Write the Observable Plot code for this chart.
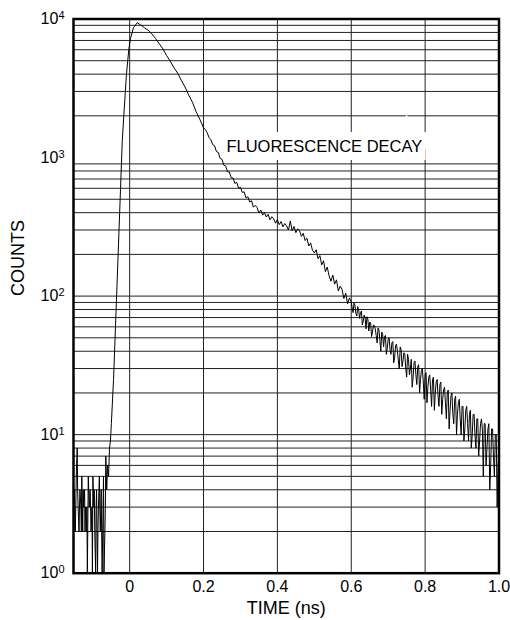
<!DOCTYPE html>
<html><head><meta charset="utf-8">
<script src="https://cdn.jsdelivr.net/npm/d3@7"></script>
<script src="https://cdn.jsdelivr.net/npm/@observablehq/plot@0.6"></script>
<style>
body{margin:0;background:#fff}
#chart{width:510px;height:620px}
</style>
</head><body><div id="chart"></div>
<script>
// time (ns), counts
const baseline = [
[-0.152,3],[-0.1495,4],[-0.147,2],[-0.1445,5],[-0.142,8],[-0.1395,3],[-0.137,2],[-0.1345,4],[-0.132,3],[-0.1295,5],
[-0.127,2],[-0.1245,3],[-0.122,4],[-0.1195,3],[-0.117,2],[-0.1145,1],[-0.112,5],[-0.1095,3],[-0.107,4],[-0.1045,2],
[-0.102,3],[-0.0995,5],[-0.097,3],[-0.0945,2],[-0.092,1],[-0.0895,4],[-0.087,1],[-0.0845,3],[-0.082,5],[-0.0795,2],
[-0.077,4],[-0.0745,1],[-0.072,3],[-0.0695,1],[-0.067,2],[-0.0645,7],[-0.062,4],[-0.0595,6],[-0.057,5],[-0.0545,8]
];
const baselineMid = [
[-0.1508,2],[-0.1458,3],[-0.1408,4],[-0.1358,3],[-0.1308,2],[-0.1258,4],[-0.1208,2],[-0.1158,3],[-0.1108,4],[-0.1058,3],
[-0.1008,1],[-0.0958,4],[-0.0908,3],[-0.0858,2],[-0.0808,3],[-0.0758,2],[-0.0708,5],[-0.0658,3],[-0.0608,5]
];
const rise = [
[-0.052,9],[-0.0495,12],[-0.0436,25],[-0.0317,182],[-0.020,1306],[-0.0157,2030],[-0.0084,4050],[-0.002,6110],
[0.0024,7250],[0.0106,8690],[0.0206,9400],[0.0384,8730]
];
const decay = [
[0.03,9040],[0.04,8650],[0.05,8300],[0.06,7820],[0.07,7250],[0.08,6640],[0.09,6090],[0.10,5450],[0.11,4960],[0.12,4440],
[0.13,4070],[0.14,3600],[0.15,3230],[0.16,2820],[0.17,2510],[0.18,2140],[0.19,1890],[0.20,1640],[0.205,1590],[0.21,1510],
[0.215,1395],[0.22,1345],[0.225,1238],[0.23,1215],[0.235,1105],[0.24,1090],[0.245,985],[0.25,972],[0.255,880],[0.26,868],
[0.265,790],[0.27,785],[0.275,715],[0.28,712],[0.285,650],[0.29,662],[0.295,600],[0.30,610],[0.305,560],[0.31,566],
[0.315,510],[0.32,522],[0.325,478],[0.33,488],[0.335,438],[0.34,452],[0.345,436],[0.35,398],[0.355,418],[0.36,384],
[0.365,401],[0.37,372],[0.375,390],[0.38,355],[0.385,374],[0.39,362],[0.395,336],[0.40,356],[0.405,328],[0.41,345],
[0.415,316],[0.42,334],[0.425,322],[0.43,300],[0.435,348],[0.44,296],[0.445,318],[0.45,287],[0.455,306],[0.46,296],
[0.465,270],[0.47,284],[0.475,252],[0.48,262],[0.485,230],[0.49,242],[0.495,214],[0.50,205],[0.505,216],[0.51,186],
[0.515,196],[0.52,168],[0.525,180],[0.53,150],[0.535,162],[0.54,140],[0.545,128],[0.55,142]
];
const tail = [
[0.555,122],[0.56,131],[0.565,109],[0.57,118],[0.575,112],[0.58,96],[0.585,105],[0.59,88],[0.595,97],[0.60,91],
[0.605,76],[0.61,86],[0.615,72],[0.62,80],[0.625,76],[0.63,62],[0.635,73],[0.64,58],[0.645,68],[0.65,65],
[0.655,51],[0.66,62],[0.665,58],[0.67,46],[0.675,57],[0.68,40],[0.685,53],[0.69,51],[0.695,38],[0.70,49],
[0.705,41],[0.71,46],[0.715,33],[0.72,44],[0.725,40],[0.73,30],[0.735,41],[0.74,34],[0.745,38],[0.75,26],
[0.755,35],[0.76,30],[0.765,22],[0.77,33],[0.775,27],[0.78,31],[0.785,20],[0.79,29],[0.795,24],[0.80,27],
[0.805,17],[0.81,26],[0.815,21],[0.82,25],[0.825,15],[0.83,24],[0.835,19],[0.84,23],[0.845,14],[0.85,21],
[0.855,17],[0.86,20],[0.865,11],[0.87,19],[0.875,14],[0.88,18],[0.885,10],[0.89,17],[0.895,13],[0.90,16],
[0.905,9],[0.91,15],[0.915,12],[0.92,14],[0.925,8],[0.93,14],[0.935,10],[0.94,13],[0.945,7],[0.95,12],
[0.955,11],[0.96,12],[0.965,6],[0.97,11],[0.975,4],[0.98,11],[0.985,7],[0.99,10],[0.995,3],[1.0,8]
];
const tailMid = [
[0.6025,82],[0.6075,89],[0.6125,75],[0.6175,84],[0.6225,69],[0.6275,78],[0.6325,66],[0.6375,70],[0.6425,71],[0.6475,56],
[0.6525,64],[0.6575,55],[0.6625,61],[0.6675,52],[0.6725,59],[0.6775,48],[0.6825,55],[0.6875,43],[0.6925,52],[0.6975,42],
[0.7025,50],[0.7075,38],[0.7125,47],[0.7175,36],[0.7225,45],[0.7275,34],[0.7325,43],[0.7375,31],[0.7425,39],[0.7475,30],
[0.7525,38],[0.7575,27],[0.7625,35],[0.7675,26],[0.7725,34],[0.7775,23],[0.7825,32],[0.7875,25],[0.7925,30],[0.7975,18],
[0.8025,28],[0.8075,22],[0.8125,27],[0.8175,16],[0.8225,26],[0.8275,20],[0.8325,25],[0.8375,16],[0.8425,24],[0.8475,18],
[0.8525,22],[0.8575,13],[0.8625,21],[0.8675,15],[0.8725,20],[0.8775,12],[0.8825,19],[0.8875,14],[0.8925,18],[0.8975,10],
[0.9025,16],[0.9075,11],[0.9125,16],[0.9175,9],[0.9225,15],[0.9275,10],[0.9325,14],[0.9375,8],[0.9425,13],[0.9475,9],
[0.9525,13],[0.9575,5],[0.9625,12],[0.9675,8],[0.9725,12],[0.9775,6],[0.9825,11],[0.9875,5],[0.9925,10],[0.9975,6]
];

const xTicks = [0, 0.2, 0.4, 0.6, 0.8, 1.0];
const xTickLabels = ["0", "0.2", "0.4", "0.6", "0.8", "1.0"];
const yTicks = [1, 10, 100, 1000, 10000];
const yTickBase = "10";
const yTickExponents = ["0", "1", "2", "3", "4"];
const gridXValues = [0, 0.2, 0.4, 0.6, 0.8];
const gridDecades = [1, 10, 100, 1000];
const gridMultipliers = [2, 3, 4, 5, 6, 7, 8, 9];
const gridDecadeLines = [10, 100];
const xLabel = "TIME (ns)";
const yLabel = "COUNTS";
const annotationText = "FLUORESCENCE DECAY";
const annotationTime = 0.262;
const annotationCounts = 1200;

const series = [...baseline, ...baselineMid, ...rise, ...decay, ...tail, ...tailMid]
  .map(([t, c]) => ({t, c}))
  .sort((a, b) => a.t - b.t);
const gridYValues = gridDecades.flatMap(d => gridMultipliers.map(m => m * d)).concat(gridDecadeLines);

const font = "'Liberation Sans', Arial, Helvetica, sans-serif";

const chart = Plot.plot({
  width: 510,
  height: 620,
  marginTop: 18.5,
  marginBottom: 47.3,
  marginLeft: 73,
  marginRight: 11.5,
  style: {fontFamily: font, fontSize: "16px", color: "#000", background: "#fff"},
  x: {domain: [-0.152, 1.0]},
  y: {type: "log", domain: [1, 10000]},
  marks: [
    Plot.ruleY(gridYValues, {stroke: "#222", strokeWidth: 1}),
    Plot.ruleX(gridXValues, {stroke: "#222", strokeWidth: 1}),
    Plot.text([annotationText], {x: () => annotationTime, y: () => annotationCounts, text: d => d,
      textAnchor: "start", lineAnchor: "middle", fontSize: 16.5, fill: "#000",
      stroke: "#fff", strokeWidth: 16, strokeLinejoin: "miter"}),
    Plot.line(series, {x: "t", y: "c", stroke: "#000", strokeWidth: 1, clip: true}),
    Plot.axisX({ticks: xTicks, tickFormat: d => xTickLabels[xTicks.indexOf(d)], tickSize: 0, tickPadding: 7, fontSize: 16, label: null}),
    Plot.axisY({ticks: yTicks, tickFormat: d => yTickBase + yTickExponents[yTicks.indexOf(d)], tickSize: 0, tickPadding: 9, fontSize: 16, label: null}),
    Plot.text([xLabel], {frameAnchor: "bottom", dy: 35, text: d => d, fontSize: 18, lineAnchor: "middle"}),
    Plot.text([yLabel], {frameAnchor: "left", dx: -55, rotate: -90, text: d => d, fontSize: 18, lineAnchor: "middle"}),
    Plot.frame({stroke: "#000", strokeWidth: 2.5})
  ]
});

// Render the y tick exponents as superscripts
chart.querySelectorAll('g[aria-label="y-axis tick label"] text').forEach(el => {
  const s = el.textContent;
  if (s.startsWith(yTickBase)) {
    const exp = s.slice(yTickBase.length);
    el.textContent = yTickBase;
    const ts = document.createElementNS("http://www.w3.org/2000/svg", "tspan");
    ts.setAttribute("dy", "-0.45em");
    ts.setAttribute("font-size", "11");
    ts.textContent = exp;
    el.appendChild(ts);
  }
});

document.getElementById("chart").appendChild(chart);
</script>
</body></html>
